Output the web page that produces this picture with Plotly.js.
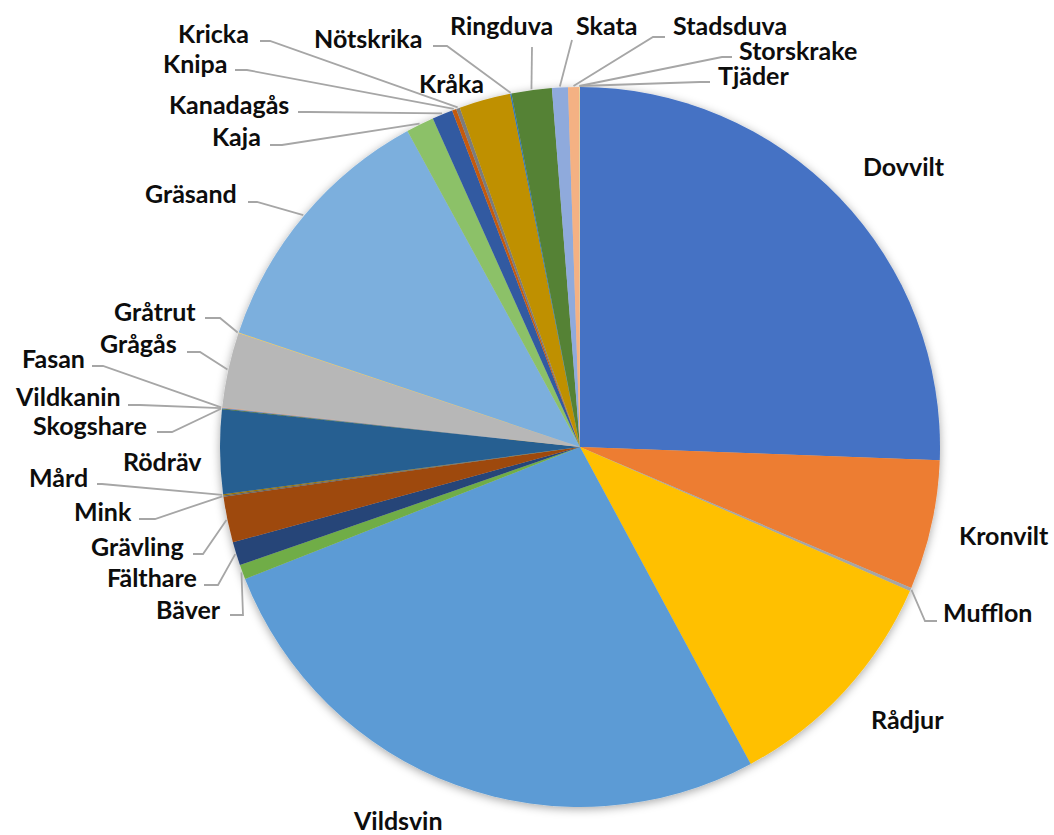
<!DOCTYPE html>
<html>
<head>
<meta charset="utf-8">
<script src="https://cdn.plot.ly/plotly-3.0.1.min.js"></script>
<style>
  html, body { margin: 0; padding: 0; background: #ffffff; }
  #chart { width: 1054px; height: 835px; }
</style>
</head>
<body>
<div id="chart"></div>
<script>
// ---- Data (share in %) ----
const categories = [
  'Dovvilt', 'Kronvilt', 'Mufflon', 'Rådjur', 'Vildsvin',
  'Bäver', 'Fälthare', 'Grävling', 'Mink', 'Mård', 'Rödräv', 'Skogshare', 'Vildkanin',
  'Fasan', 'Grågås', 'Gråtrut', 'Gräsand', 'Kaja', 'Kanadagås', 'Knipa', 'Kricka',
  'Kråka', 'Nötskrika', 'Ringduva', 'Skata', 'Stadsduva', 'Storskrake', 'Tjäder'
];
const shares = [
  25.5, 5.8, 0.15, 10.55, 26.8,
  0.65, 1.05, 2.05, 0.06, 0.06, 3.75, 0.03, 0.03,
  0.03, 3.35, 0.03, 11.85, 1.25, 0.92, 0.19, 0.17,
  2.3, 0.06, 1.8, 0.71, 0.49, 0.02, 0.02
];
const sliceColors = [
  '#4472C4', '#ED7D31', '#A5A5A5', '#FFC000', '#5B9BD5',
  '#70AD47', '#264478', '#9E480E', '#636363', '#997300', '#255E91', '#43682B', '#698ED0',
  '#F1975A', '#B7B7B7', '#FFCD33', '#7CAFDD', '#8CC168', '#335AA1', '#C55A11', '#7B7B7B',
  '#BF9000', '#2E75B6', '#548235', '#8FAADC', '#F4B183', '#C9C9C9', '#FFD966'
];

// ---- Label layout (pixel positions of label text and leader-line knees) ----
const labelLayout = {
  'Dovvilt':   [904, 166, 'center', null],
  'Kronvilt':  [1004, 535, 'center', null],
  'Mufflon':   [942, 612, 'left',  [[937, 621], [925, 621]]],
  'Rådjur':    [907, 719, 'center', null],
  'Vildsvin':  [398, 820, 'center', null],
  'Bäver':     [222, 609, 'right', [[230, 615], [243, 615]]],
  'Fälthare':  [198, 577, 'right', [[204, 585], [218, 585]]],
  'Grävling':  [185, 546, 'right', [[193, 554], [203, 554]]],
  'Mink':      [133, 511, 'right', [[139, 519], [155, 519]]],
  'Mård':      [89, 477,  'right', [[97, 484], [102, 484]]],
  'Rödräv':    [162, 461, 'center', null],
  'Skogshare': [148, 425, 'right', [[157, 432], [172, 432]]],
  'Vildkanin': [122, 396, 'right', [[128, 405], [140, 405]]],
  'Fasan':     [86, 358,  'right', [[92, 366], [103, 366]]],
  'Grågås':    [178, 343, 'right', [[187, 352], [200, 352]]],
  'Gråtrut':   [197, 311, 'right', [[205, 318], [220, 318]]],
  'Gräsand':   [238, 193, 'right', [[248, 202], [257, 202]]],
  'Kaja':      [262, 136, 'right', [[270, 145], [282, 145]]],
  'Kanadagås': [290, 104, 'right', [[298, 112], [310, 112]]],
  'Knipa':     [228, 63,  'right', [[235, 70], [247, 70]]],
  'Kricka':    [250, 33,  'right', [[260, 41], [270, 41]]],
  'Kråka':     [451, 83,  'center', null],
  'Nötskrika': [423, 38,  'right', [[433, 46], [447, 46]]],
  'Ringduva':  [501, 25,  'center', [[532, 47]]],
  'Skata':     [606, 25,  'center', [[572, 40]]],
  'Stadsduva': [672, 25,  'left',  [[665, 37], [653, 37]]],
  'Storskrake':[738, 50,  'left',  [[732, 57], [722, 57]]],
  'Tjäder':    [717, 75,  'left',  [[710, 82], [700, 82]]]
};

const W = 1054, H = 835;
const PCX = 580, PCY = 447, PR = 360;

const trace = {
  type: 'pie',
  labels: categories,
  values: shares,
  sort: false,
  direction: 'clockwise',
  rotation: 0,
  textinfo: 'none',
  hoverinfo: 'label+percent',
  marker: { colors: sliceColors, line: { width: 0 } },
  domain: {
    x: [(PCX - PR) / W, (PCX + PR) / W],
    y: [(H - PCY - PR) / H, (H - PCY + PR) / H]
  },
  showlegend: false
};

const layout = {
  width: W, height: H,
  margin: { l: 0, r: 0, t: 0, b: 0 },
  paper_bgcolor: '#ffffff',
  plot_bgcolor: '#ffffff',
  showlegend: false,
  font: { family: 'Lato, "Open Sans", sans-serif', color: '#0d0d0d' }
};

const gd = document.getElementById('chart');
Plotly.newPlot(gd, [trace], layout, { displayModeBar: false, staticPlot: true }).then(function () {
  const cd = gd.calcdata[0];
  const cx = cd[0].cx, cy = cd[0].cy, r = cd[0].r;
  const total = shares.reduce((a, b) => a + b, 0);
  let cum = 0;
  const annotations = [];
  const shapes = [];
  categories.forEach(function (name, i) {
    const mid = (cum + shares[i] / 2) / total * 2 * Math.PI;
    cum += shares[i];
    const spec = labelLayout[name];
    const tx = spec[0], ty = spec[1], anchor = spec[2], knees = spec[3];
    annotations.push({
      text: '<b>' + name + '</b>',
      x: tx / W, y: 1 - ty / H, xref: 'paper', yref: 'paper',
      xanchor: anchor, yanchor: 'middle', showarrow: false,
      font: { family: 'Lato, "Open Sans", sans-serif', size: 25, color: '#0d0d0d' },
      borderpad: 0
    });
    if (knees) {
      const ex = cx + (r + 1) * Math.sin(mid);
      const ey = cy - (r + 1) * Math.cos(mid);
      const pts = knees.slice().concat([[ex, ey]]);
      let d = '';
      pts.forEach(function (p, k) {
        d += (k === 0 ? 'M' : 'L') + (p[0] / W) + ',' + (1 - p[1] / H) + ' ';
      });
      shapes.push({
        type: 'path', path: d.trim(), xref: 'paper', yref: 'paper',
        line: { color: '#A6A6A6', width: 1.8 }, layer: 'above'
      });
    }
  });
  return Plotly.relayout(gd, { annotations: annotations, shapes: shapes });
}).then(function () {
  // soft shadow around the pie, like the original
  const svg = gd.querySelector('svg.main-svg');
  const ns = 'http://www.w3.org/2000/svg';
  let defs = svg.querySelector('defs');
  if (!defs) { defs = document.createElementNS(ns, 'defs'); svg.insertBefore(defs, svg.firstChild); }
  const f = document.createElementNS(ns, 'filter');
  f.setAttribute('id', 'pieShadow');
  f.setAttribute('x', '-10%'); f.setAttribute('y', '-10%');
  f.setAttribute('width', '120%'); f.setAttribute('height', '120%');
  const ds = document.createElementNS(ns, 'feDropShadow');
  ds.setAttribute('dx', '0'); ds.setAttribute('dy', '2');
  ds.setAttribute('stdDeviation', '5');
  ds.setAttribute('flood-color', '#000000');
  ds.setAttribute('flood-opacity', '0.35');
  f.appendChild(ds);
  defs.appendChild(f);
  const pie = gd.querySelector('g.pielayer g.trace');
  if (pie) pie.setAttribute('filter', 'url(#pieShadow)');
});
</script>
</body>
</html>
